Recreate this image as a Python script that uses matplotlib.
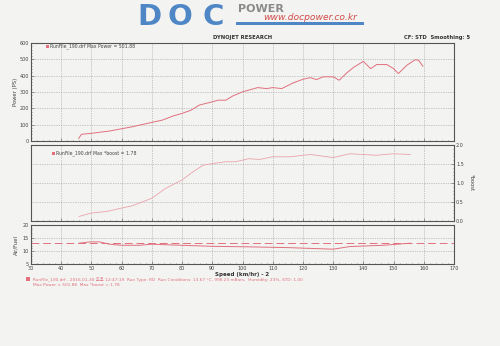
import matplotlib
matplotlib.use("Agg")
import matplotlib.pyplot as plt
from matplotlib.ticker import MultipleLocator
from matplotlib.patches import Rectangle

plt.rcParams['font.family'] = ['DejaVu Sans', 'Noto Sans CJK KR']

# ---- data ----
power_speed = [45.8, 46.7, 50, 56, 60, 63.5, 70, 73.5, 77, 80, 83, 85.7, 90, 92, 94.5, 96.7, 100, 102,
               105, 108, 110, 113, 116.8, 120, 122.5, 124.5, 126.7, 130, 132, 134.5, 136.7, 140,
               142.4, 144.4, 147.8, 150, 151.6, 154.4, 157.2, 158.3, 159.7]
power_vals = [16, 41, 47, 61, 75, 87, 114, 128, 153, 169, 189, 220, 240, 250, 250, 275, 301, 311,
              327, 321, 327, 321, 356, 378, 388, 376, 393, 393, 372, 417, 450, 488,
              443, 468, 468, 443, 413, 464, 498, 494, 458]

boost_speed = [45.9, 50, 55, 60, 63.5, 70, 74.6, 80, 83.7, 87, 90, 94.5, 97.7, 102, 105.7, 110,
               115.6, 122.5, 130, 135.5, 144.4, 150, 155.5]
boost_vals = [0.12, 0.21, 0.25, 0.34, 0.40, 0.60, 0.86, 1.08, 1.30, 1.47, 1.51, 1.56, 1.56, 1.64,
              1.62, 1.69, 1.69, 1.75, 1.67, 1.77, 1.73, 1.77, 1.75]

afr_speed = [45.9, 49.5, 52.7, 56, 60, 65.8, 70, 80, 90, 102, 115, 130, 135.5, 146.6, 155.5]
afr_vals = [13.0, 13.5, 13.5, 12.6, 12.2, 12.2, 12.6, 12.2, 11.8, 11.6, 11.3, 10.7, 11.7, 12.2, 13.0]

afr_target_speed = [30, 170]
afr_target = [13.0, 13.0]

x_ticks = list(range(30, 171, 10))
power_ticks = list(range(0, 601, 100))
boost_ticks = [0.0, 0.5, 1.0, 1.5, 2.0]
afr_ticks = [5, 10, 15, 20]

bg = '#f3f3f1'
red = '#e0707e'
pink = '#eba3ac'
grid_c = '#9a9a9a'
axis_c = '#555555'
blue = '#4f86c6'

fig = plt.figure(figsize=(5.0, 3.46), dpi=100, facecolor=bg)

L, W = 0.062, 0.846
ax1 = fig.add_axes([L, 0.5925, W, 0.2832])
ax2 = fig.add_axes([L, 0.3613, W, 0.2196])
ax3 = fig.add_axes([L, 0.2370, W, 0.1127])

for ax in (ax1, ax2, ax3):
    ax.set_facecolor(bg)
    ax.set_xlim(30, 170)
    ax.set_xticks(x_ticks)
    ax.xaxis.set_minor_locator(MultipleLocator(2))
    ax.grid(True, which='major', color=grid_c, linestyle=(0, (1, 1.5)), linewidth=0.5)
    for s in ax.spines.values():
        s.set_color(axis_c)
        s.set_linewidth(0.8)
    ax.tick_params(which='both', direction='in', color=axis_c, labelsize=3.5,
                   labelcolor='#444444', length=2, width=0.4, pad=1.5)
    ax.tick_params(which='minor', length=1)

ax1.plot(power_speed, power_vals, color=red, linewidth=0.7)
ax1.set_ylim(0, 600)
ax1.set_yticks(power_ticks)
ax1.yaxis.set_minor_locator(MultipleLocator(20))
ax1.tick_params(labelbottom=False)
ax1.set_ylabel('Power (PS)', fontsize=3.8, color='#444444', labelpad=1)

ax2.plot(boost_speed, boost_vals, color=pink, linewidth=0.6)
ax2.set_ylim(0, 2.0)
ax2.set_yticks(boost_ticks)
ax2.set_yticklabels([f'{v:.1f}' for v in boost_ticks])
ax2.yaxis.set_minor_locator(MultipleLocator(0.1))
ax2.yaxis.tick_right()
ax2.yaxis.set_label_position('right')
ax2.tick_params(labelbottom=False)
ax2.set_ylabel('*boost', fontsize=3.8, color='#444444', rotation=270, labelpad=7)

ax3.plot(afr_target_speed, afr_target, color=red, linewidth=0.7, linestyle=(0, (8, 4)))
ax3.plot(afr_speed, afr_vals, color=red, linewidth=0.7)
ax3.set_ylim(5, 20)
ax3.set_yticks(afr_ticks)
ax3.yaxis.set_minor_locator(MultipleLocator(1))
ax3.set_ylabel('Air/Fuel', fontsize=3.8, color='#444444', labelpad=3)
ax3.set_xlabel('Speed (km/hr) - 2', fontsize=4, color='#333333', fontweight='bold', labelpad=0.5)

# legends inside panels
fig.patches.append(Rectangle((46/500, 1 - 48/346), 3/500, 3/346, transform=fig.transFigure,
                             facecolor=red, edgecolor='none'))
fig.text(50/500, 1 - 46.5/346, 'RunFile_190.drf Max Power = 501.88', fontsize=3.3,
         color='#444444', va='center')
fig.patches.append(Rectangle((52/500, 1 - 155/346), 3/500, 3/346, transform=fig.transFigure,
                             facecolor=red, edgecolor='none'))
fig.text(56/500, 1 - 153.5/346, 'RunFile_190.drf Max *boost = 1.78', fontsize=3.3,
         color='#444444', va='center')

# headers
fig.text(243/500, 1 - 38/346, 'DYNOJET RESEARCH', fontsize=3.8, color='#333333',
         ha='center', va='center', fontweight='bold')
fig.text(470/500, 1 - 37/346, 'CF: STD  Smoothing: 5', fontsize=3.8, color='#333333',
         ha='right', va='center', fontweight='bold')

# footer
fig.patches.append(Rectangle((26/500, 1 - 281/346), 4/500, 4/346, transform=fig.transFigure,
                             facecolor=red, edgecolor='none'))
fig.text(33/500, 1 - 279/346,
         'RunFile_190.drf - 2016-01-30 오후 12:47:19  Run Type: RD  Run Conditions: 13.67 °C, 998.23 mBars,  Humidity: 23%, STD: 1.00',
         fontsize=3.1, color=red, va='center')
fig.text(33/500, 1 - 285/346, 'Max Power = 501.88  Max *boost = 1.78',
         fontsize=3.1, color=red, va='center')

# logo
for ch, xc in (('D', 149), ('O', 180), ('C', 213)):
    fig.text(xc/500, 1 - 25/346, ch, fontsize=21, color=blue, fontweight='bold',
             va='baseline', ha='center', family='DejaVu Sans')
fig.text(238/500, 1 - 12/346, 'POWER', fontsize=8, color='#8a8a8a', fontweight='bold',
         va='baseline', ha='left')
fig.text(263/500, 1 - 20/346, 'www.docpower.co.kr', fontsize=6.6, color='#d04a4a',
         style='italic', va='baseline', ha='left')
fig.patches.append(Rectangle((236/500, 1 - 25/346), 128/500, 3/346, transform=fig.transFigure,
                             facecolor=blue, edgecolor='none'))

fig.savefig('out.png', dpi=100, facecolor=bg)
